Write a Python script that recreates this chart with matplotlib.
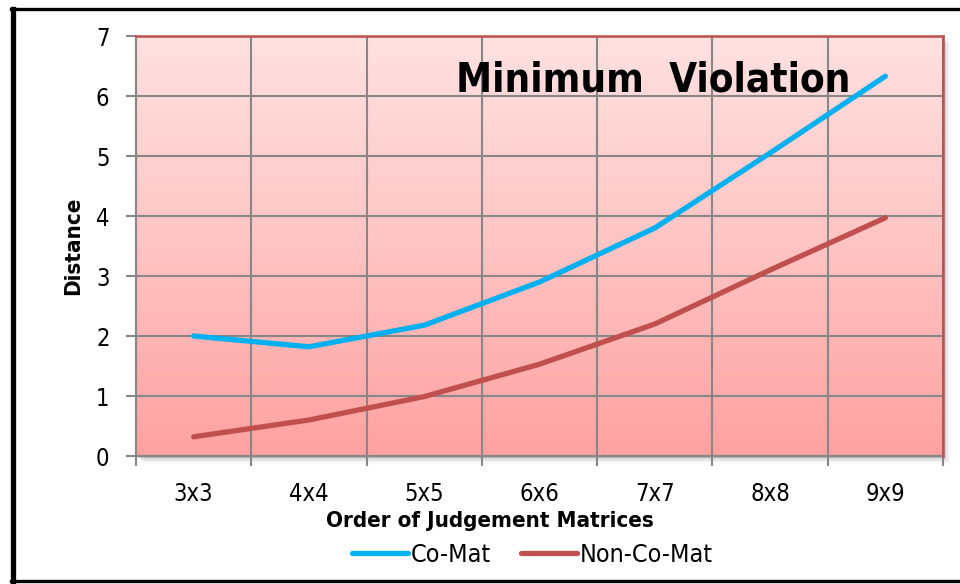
import numpy as np
import matplotlib
matplotlib.use("Agg")
import matplotlib.pyplot as plt
from matplotlib.lines import Line2D
from matplotlib.patches import Rectangle
from matplotlib.colors import LinearSegmentedColormap

plt.rcParams['font.family'] = ['DejaVu Sans']
plt.rcParams['font.stretch'] = 'condensed'

categories = ["3x3", "4x4", "5x5", "6x6", "7x7", "8x8", "9x9"]
co_mat = [2.0, 1.82, 2.18, 2.9, 3.8, 5.05, 6.33]
non_co_mat = [0.32, 0.6, 0.99, 1.53, 2.2, 3.1, 3.97]
y_ticks = [0, 1, 2, 3, 4, 5, 6, 7]

fig = plt.figure(figsize=(9.6, 5.84), dpi=100)
W, H = 960, 584
L, R, T, B = 136, 943, 36, 456
ax = fig.add_axes([L / W, 1 - B / H, (R - L) / W, (B - T) / H])

x = np.arange(len(categories))
ax.set_xlim(-0.5, len(categories) - 0.5)
ax.set_ylim(0, 7)

# vertical pink gradient behind the plot
cmap = LinearSegmentedColormap.from_list("pinkfade", ["#FFA1A1", "#FFC4C4", "#FFE1E1"])
grad = np.linspace(0, 1, 256).reshape(-1, 1)
ax.imshow(grad, cmap=cmap, aspect="auto", origin="lower",
          extent=[-0.5, len(categories) - 0.5, 0, 7], zorder=0)

# soft drop shadow along right and bottom edges
for i, a in enumerate([0.10, 0.07, 0.05, 0.03, 0.02]):
    off = (i + 1) * 1.5
    fig.patches.append(Rectangle(((L + off) / W, 1 - (B + off) / H), (R - L) / W, (B - T) / H,
                                 transform=fig.transFigure, facecolor="black", alpha=a,
                                 edgecolor="none", zorder=-5))

# grid at category boundaries and integer distances
ax.set_xticks(np.arange(-0.5, len(categories), 1.0))
ax.set_xticklabels([])
ax.set_xticks(x, minor=True)
ax.set_xticklabels(categories, minor=True, fontsize=17)
ax.set_yticks(y_ticks)
ax.set_yticklabels([str(v) for v in y_ticks], fontsize=17)
ax.grid(True, which="major", color="#878787", linewidth=1.5, zorder=1)
ax.set_axisbelow(False)
ax.tick_params(axis="both", which="major", color="#878787", width=1.5, length=7, direction="out")
ax.tick_params(axis="y", pad=12)
ax.tick_params(axis="x", which="minor", length=0, pad=19)

for side in ["left", "bottom"]:
    ax.spines[side].set_color("#878787")
    ax.spines[side].set_linewidth(1.5)
for side in ["top", "right"]:
    ax.spines[side].set_color("#C0504D")
    ax.spines[side].set_linewidth(1.8)
    ax.spines[side].set_zorder(4)

ln1, = ax.plot(x, co_mat, color="#00B0F0", linewidth=3.8, solid_capstyle="round",
               solid_joinstyle="round", zorder=3, label="Co-Mat")
ln2, = ax.plot(x, non_co_mat, color="#C0504D", linewidth=3.8, solid_capstyle="round",
               solid_joinstyle="round", zorder=3, label="Non-Co-Mat")

ax.text(653 / W, 1 - 80 / H, "Minimum  Violation", transform=fig.transFigure,
        ha="center", va="center", fontsize=29, fontweight="bold", zorder=5)

fig.text(490 / W, 1 - 521 / H, "Order of Judgement Matrices", ha="center", va="center",
         fontsize=16, fontweight="bold")
fig.text(73 / W, 1 - 246 / H, "Distance", ha="center", va="center", rotation=90,
         fontsize=16, fontweight="bold")

fig.legend(handles=[ln1, ln2], loc="center", bbox_to_anchor=(532 / W, 1 - 555 / H),
           ncol=2, frameon=False, fontsize=18, handlelength=2.25, handletextpad=0.1,
           columnspacing=1.2)

# outer chart frame
fig.lines.append(Line2D([12.5 / W, 12.5 / W], [1 - 8.5 / H, 1 - 580.5 / H],
                        transform=fig.transFigure, color="black", linewidth=3.8))
fig.lines.append(Line2D([11 / W, 1.0], [1 - 8.5 / H, 1 - 8.5 / H],
                        transform=fig.transFigure, color="black", linewidth=2.4))
fig.lines.append(Line2D([11 / W, 1.0], [1 - 580.5 / H, 1 - 580.5 / H],
                        transform=fig.transFigure, color="black", linewidth=2.4))

fig.savefig("out.png", dpi=100, facecolor="white")
